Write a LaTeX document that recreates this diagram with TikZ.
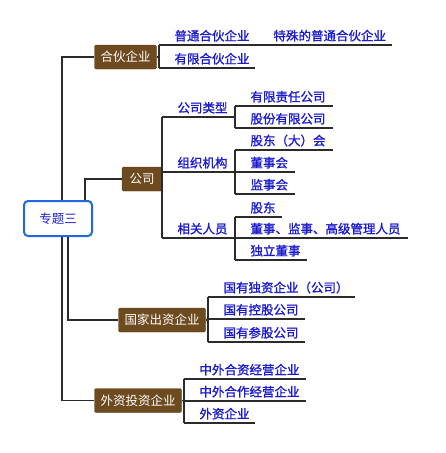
\documentclass[tikz,border=0pt]{standalone}
\usepackage{fontspec}
\newfontfamily\cjk{Noto Sans CJK SC}
\newfontfamily\cjkbold[FakeBold=1.3]{Noto Sans CJK SC}
\usepackage{xcolor}
\usetikzlibrary{positioning}

\definecolor{topicbrown}{HTML}{6E4A1F}
\definecolor{topicrim}{HTML}{5A3A14}
\definecolor{leafblue}{HTML}{1A1AD0}
\definecolor{rootblue}{HTML}{1F6AE0}
\definecolor{linegray}{HTML}{2B2B2B}

\begin{document}
\begin{tikzpicture}[x=1pt, y=-1pt,
  root/.style={draw=rootblue, line width=2pt, rounded corners=4pt, fill=white, minimum width=68pt, minimum height=35pt, text=leafblue, font=\cjk\fontsize{12.5}{14}\selectfont},
  topic/.style={draw=topicrim, fill=topicbrown, rounded corners=1.5pt, inner xsep=6pt, minimum height=24pt, text=white, font=\cjk\fontsize{12.5}{14}\selectfont},
  leaf/.style={anchor=south west, inner xsep=0pt, inner ysep=3.5pt, outer sep=0pt, text width=#1, align=left, text=leafblue, font=\cjkbold\fontsize{12.5}{14}\selectfont, execute at begin node=\hspace*{15.5pt}},
  edge/.style={draw=linegray, line width=1.1pt}
]
\useasboundingbox (0,0) rectangle (446,453);

% main topics
\node[root] (root) at (58,218.5) {专题三};
\node[topic] (hh) at (125.5,57) {合伙企业};
\node[topic, inner xsep=7.5pt] (gs) at (142,179) {公司};
\node[topic] (gj) at (162,320) {国家出资企业};
\node[topic] (wz) at (138,400.5) {外资投资企业};

% partnership
\node[leaf=99pt] (pt) at (159,45) {普通合伙企业};
\node[leaf=134pt] (ts) at (258,45) {特殊的普通合伙企业};
\node[leaf=96pt] (yx) at (159,68) {有限合伙企业};

% company
\node[leaf=73pt] (lx) at (162,117) {公司类型};
\node[leaf=73pt] (zz) at (162,172) {组织机构};
\node[leaf=73pt] (xg) at (162,238) {相关人员};
\node[leaf=98pt] (yxzr) at (235,106) {有限责任公司};
\node[leaf=98pt] (gf) at (235,128) {股份有限公司};
\node[leaf=98pt] (gd) at (235,150) {股东（大）会};
\node[leaf=60pt] (dsh) at (235,172) {董事会};
\node[leaf=60pt] (jsh) at (235,194) {监事会};
\node[leaf=47pt] (gdr) at (235,217) {股东};
\node[leaf=173pt] (djg) at (235,238) {董事、监事、高级管理人员};
\node[leaf=72pt] (dl) at (235,260) {独立董事};

% state-funded
\node[leaf=147pt] (dz) at (208,297) {国有独资企业（公司）};
\node[leaf=97pt] (kg) at (208,319) {国有控股公司};
\node[leaf=97pt] (cg) at (208,342) {国有参股公司};

% foreign-invested
\node[leaf=122pt] (hz) at (184,379) {中外合资经营企业};
\node[leaf=122pt] (hzuo) at (184,401) {中外合作经营企业};
\node[leaf=71pt] (wq) at (184,423) {外资企业};

% underlines
\foreach \n in {pt,ts,yx,lx,zz,xg,yxzr,gf,gd,dsh,jsh,gdr,djg,dl,dz,kg,cg,hz,hzuo,wq}
  \draw[edge] (\n.south west) -- (\n.south east);

% branches
\draw[edge] ([xshift=4pt]root.north) |- (hh.west);
\draw[edge] ([xshift=27pt]root.north) |- (gs.west);
\draw[edge] ([xshift=10pt]root.south) |- (gj.west);
\draw[edge] ([xshift=4pt]root.south) |- (wz.west);

\draw[edge] (hh.east) -| (pt.south west);
\draw[edge] (hh.east) -| (yx.south west);
\draw[edge] (lx.south west) -- (xg.south west);
\draw[edge] (yxzr.south west) -- (gf.south west);
\draw[edge] (gd.south west) -- (jsh.south west);
\draw[edge] (gdr.south west) -- (dl.south west);
\draw[edge] (gj.east) -| (dz.south west);
\draw[edge] (gj.east) -| (cg.south west);
\draw[edge] (wz.east) -| (hz.south west);
\draw[edge] (wz.east) -| (wq.south west);
\end{tikzpicture}
\end{document}
